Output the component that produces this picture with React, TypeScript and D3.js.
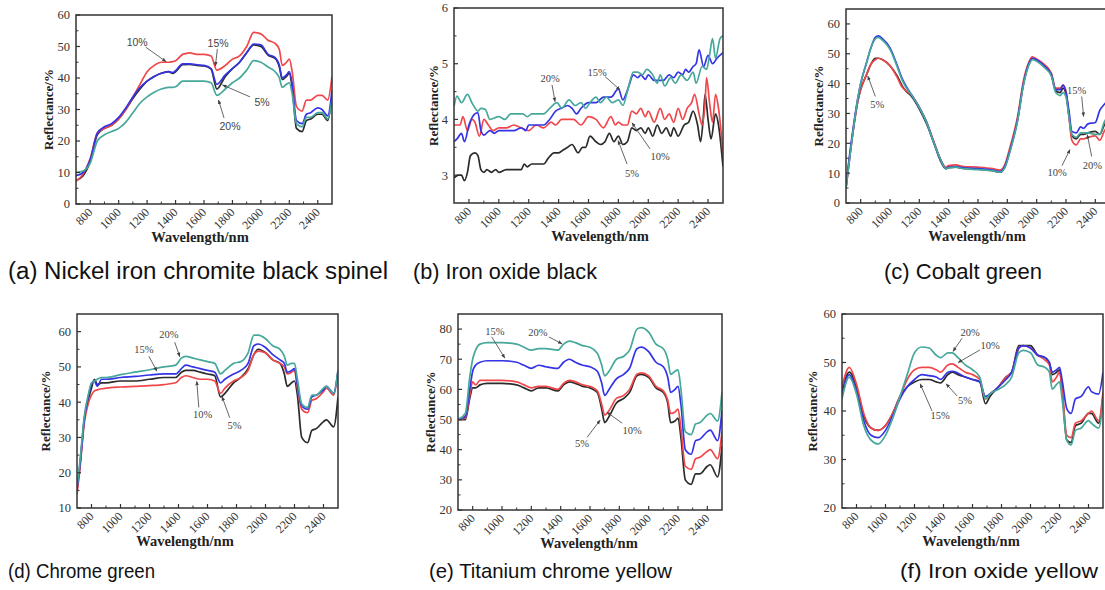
import React from 'react';
import * as d3 from 'd3';

// series order everywhere: 5%, 10%, 15%, 20%
const SERIES = ['5%', '10%', '15%', '20%'];
const COLORS = ['#2b2b2b', '#f0474b', '#3434e6', '#46a89b'];

// (a) Nickel iron chromite black spinel
const A_WL = [700, 750, 800, 850, 900, 950, 1000, 1050, 1100, 1150, 1200, 1250, 1300, 1350, 1380, 1400, 1450, 1500, 1550, 1600, 1650, 1690, 1750, 1800, 1850, 1900, 1950, 2000, 2050, 2100, 2130, 2150, 2180, 2200, 2220, 2250, 2290, 2320, 2350, 2400, 2430, 2470, 2500];
const A_5 = [7.5, 9, 13.5, 22, 24, 25, 27, 30, 33.5, 36.5, 39, 40.5, 41.5, 42, 41.5, 42, 44.2, 44.3, 44, 43.8, 42.8, 36.5, 40.5, 43, 45, 48, 50.5, 50, 47.3, 46.2, 43.5, 39.5, 40.5, 41.5, 37, 24, 23, 26.5, 27, 28.5, 28.5, 26.5, 34];
const A_10 = [7.2, 9.5, 14.5, 22.5, 24, 25, 27, 30, 34, 38, 42, 44, 45, 45, 45.2, 45.5, 47.5, 48, 47.5, 47.5, 47, 42.5, 44, 46, 47, 50, 54.5, 54, 52, 51, 49, 44, 45, 46, 42, 31, 29.5, 33, 33, 34.5, 34.5, 33, 40.5];
const A_15 = [9, 10, 14, 22.5, 24.5, 25.5, 27.5, 30.5, 34, 37, 39, 40.5, 41.5, 42, 41.7, 42.3, 44.5, 44.5, 44.2, 44, 43, 38, 41, 43, 45, 48, 50.8, 50.5, 47.5, 46.5, 44, 40, 41, 42, 38, 26.5, 25.5, 28.5, 29, 30.5, 30, 28, 36];
const A_20 = [10, 10.5, 13, 20, 22, 23, 24, 26, 29, 32, 34, 35.5, 36.5, 37, 37, 37.2, 39, 39, 39, 39, 38.5, 34.5, 36.5, 38.5, 40, 42.5, 45.5, 45, 43.5, 42, 40, 37, 38, 38.5, 35, 25.5, 24.5, 27.5, 27.5, 29, 29, 27, 33];
// label, text wl, text value, arrow from wl/value, arrow to wl/value
const A_NOTES: [string, number, number, number, number, number, number][] = [
  ['10%', 1130, 51.4, 1190, 49.8, 1333, 45.2],
  ['15%', 1699, 51.1, 1694, 49.2, 1680, 43.8],
  ['5%', 2008, 32.4, 1924, 34, 1730, 37.8],
  ['20%', 1783, 24.8, 1741, 27.3, 1702, 33],
];

// (b) Iron oxide black
const B_WL_5 = [700, 730, 750, 770, 790, 810, 840, 860, 880, 900, 920, 950, 980, 1000, 1050, 1100, 1150, 1170, 1190, 1220, 1300, 1330, 1370, 1400, 1430, 1460, 1490, 1530, 1560, 1580, 1610, 1650, 1680, 1710, 1740, 1770, 1800, 1830, 1860, 1890, 1920, 1950, 1980, 2000, 2030, 2060, 2090, 2120, 2150, 2170, 2200, 2240, 2270, 2300, 2330, 2350, 2370, 2380, 2400, 2420, 2450, 2470, 2500];
const B_5 = [2.95, 3.0, 3.0, 2.9, 3.05, 3.35, 3.4, 3.35, 3.1, 3.05, 3.1, 3.05, 3.1, 3.05, 3.1, 3.1, 3.1, 3.2, 3.15, 3.2, 3.2, 3.3, 3.4, 3.4, 3.45, 3.5, 3.55, 3.4, 3.5, 3.5, 3.7, 3.6, 3.55, 3.6, 3.75, 3.6, 3.7, 3.55, 3.6, 3.85, 3.8, 3.85, 3.75, 3.85, 3.7, 3.9, 3.75, 3.85, 3.7, 3.85, 3.7, 3.9, 3.95, 4.15, 3.9, 3.6, 4.1, 4.45, 4.0, 3.65, 4.1, 3.9, 3.15];
const B_WL_10 = [700, 740, 760, 790, 820, 840, 870, 900, 930, 960, 1000, 1050, 1100, 1150, 1200, 1250, 1300, 1350, 1380, 1420, 1500, 1550, 1600, 1650, 1700, 1750, 1780, 1800, 1830, 1860, 1890, 1920, 1950, 1980, 2000, 2040, 2080, 2110, 2140, 2170, 2200, 2230, 2260, 2290, 2310, 2340, 2360, 2380, 2390, 2410, 2430, 2450, 2470, 2500];
const B_10 = [3.9, 3.9, 4.05, 3.8, 4.0, 3.95, 3.7, 4.0, 3.9, 3.8, 3.85, 3.85, 3.9, 3.85, 3.8, 3.9, 3.85, 3.95, 3.9, 4.0, 4.0, 3.9, 4.05, 4.0, 3.85, 4.05, 3.9, 3.95, 3.9, 3.9, 4.15, 4.1, 4.2, 4.05, 4.15, 3.95, 4.2, 4.0, 4.1, 3.95, 4.2, 4.0, 4.2, 4.3, 4.45, 4.1, 3.9, 4.3, 4.75, 4.3, 3.95, 4.45, 4.2, 3.4];
const B_WL_15 = [700, 720, 750, 770, 800, 840, 860, 880, 900, 940, 970, 1000, 1100, 1150, 1180, 1200, 1300, 1340, 1380, 1420, 1460, 1490, 1520, 1550, 1600, 1650, 1700, 1750, 1800, 1830, 1850, 1870, 1900, 1930, 1950, 1980, 2000, 2040, 2080, 2100, 2140, 2170, 2200, 2230, 2250, 2270, 2300, 2320, 2340, 2370, 2400, 2430, 2460, 2500];
const B_15 = [3.6, 3.65, 3.75, 3.6, 3.9, 4.1, 4.12, 3.8, 3.72, 3.8, 3.75, 3.8, 3.8, 3.85, 3.8, 3.9, 3.9, 4.0, 4.15, 4.2, 4.25, 4.2, 4.1, 4.2, 4.3, 4.3, 4.4, 4.4, 4.55, 4.35, 4.45, 4.6, 4.8, 4.75, 4.8, 4.72, 4.8, 4.7, 4.7, 4.7, 4.8, 4.75, 4.85, 4.8, 4.9, 4.85, 4.95, 5.0, 5.25, 4.95, 5.15, 5.0, 5.1, 5.2];
const B_WL_20 = [700, 720, 750, 790, 820, 860, 880, 910, 940, 1000, 1040, 1080, 1120, 1160, 1190, 1220, 1260, 1300, 1340, 1390, 1420, 1470, 1510, 1550, 1580, 1610, 1650, 1680, 1720, 1760, 1800, 1830, 1860, 1900, 1930, 1960, 1990, 2030, 2060, 2080, 2110, 2150, 2180, 2220, 2260, 2300, 2320, 2360, 2390, 2410, 2430, 2450, 2480, 2500];
const B_20 = [4.23, 4.42, 4.3, 4.45, 4.3, 4.15, 4.2, 4.18, 4.0, 4.05, 4.0, 4.1, 4.1, 4.1, 4.05, 4.1, 4.1, 4.1, 4.2, 4.3, 4.2, 4.35, 4.25, 4.3, 4.2, 4.3, 4.4, 4.3, 4.4, 4.3, 4.35, 4.25, 4.5, 4.85, 4.85, 4.8, 4.9, 4.8, 4.65, 4.8, 4.6, 4.75, 4.65, 4.8, 4.7, 4.85, 4.65, 4.95, 4.9, 5.15, 5.45, 5.1, 5.45, 5.5];
const B_NOTES: [string, number, number, number, number, number, number][] = [
  ['20%', 1343, 4.73, 1356, 4.62, 1376, 4.32],
  ['15%', 1657, 4.84, 1711, 4.77, 1811, 4.53],
  ['10%', 2079, 3.33, 2012, 3.47, 1891, 3.94],
  ['5%', 1891, 3.04, 1858, 3.2, 1798, 3.62],
];

// (c) Cobalt green
const C_WL = [700, 740, 780, 800, 840, 870, 900, 920, 950, 1000, 1050, 1080, 1100, 1150, 1200, 1250, 1300, 1350, 1380, 1400, 1450, 1500, 1600, 1700, 1750, 1780, 1820, 1870, 1910, 1950, 1970, 2000, 2050, 2100, 2130, 2160, 2180, 2200, 2220, 2240, 2270, 2300, 2320, 2350, 2400, 2430, 2460, 2500];
const C_5 = [5, 21, 34, 38, 43, 46.5, 48.5, 48.5, 48, 46, 42.5, 39.5, 38, 35.5, 31.5, 26.5, 20, 13.5, 11.5, 11.8, 12, 11.6, 11.3, 10.8, 10.3, 11.8, 18, 28, 40, 47, 48.5, 48, 46, 43, 37.5, 37, 38.5, 36.5, 29.5, 22.5, 21.5, 23, 23, 23.5, 24, 23, 26, 29];
const C_10 = [5, 21, 34, 38, 43, 46.5, 48, 48.5, 48, 46, 42, 39, 38, 36, 32, 27, 20.5, 14, 12, 12.5, 12.8, 12.2, 12, 11.5, 11, 12.5, 19, 29, 41, 47.5, 49, 48.2, 46.5, 43.5, 38.5, 38.5, 39.5, 37.5, 29, 21, 19.5, 21.5, 21.5, 22, 22.5, 21, 24, 27];
const C_15 = [6, 22, 35, 40, 47, 52, 55.5, 56, 55, 52, 46, 42, 40, 36, 32, 27, 20, 14, 11.5, 12, 12.2, 11.8, 11.5, 11, 10.5, 12, 18, 28, 40, 47, 48.5, 48, 46, 43, 38, 38, 39.5, 37, 31, 24, 23.5, 25.5, 25, 26.5, 27, 31, 33, 35];
const C_20 = [5, 21, 35, 40, 47, 52, 55, 55.5, 54.5, 51.5, 45.5, 41.5, 39.5, 36, 32, 27, 20, 14, 11.5, 11.8, 12, 11.5, 11.2, 10.8, 10.3, 11.5, 17.5, 27.5, 39.5, 46.5, 48, 47.5, 45.5, 42.5, 37, 36, 37, 35.5, 29, 23, 22, 23.5, 23.5, 23.5, 23, 23, 27, 30];
const C_NOTES: [string, number, number, number, number, number, number][] = [
  ['5%', 913, 33, 900, 35.7, 849, 42.5],
  ['15%', 2273, 37.7, 2307, 35.7, 2320, 29],
  ['10%', 2140, 10.2, 2173, 12.5, 2227, 17.9],
  ['20%', 2380, 12.5, 2375, 15.6, 2345, 22.9],
];

// (d) Chrome green
const D_WL = [700, 720, 750, 780, 800, 820, 840, 870, 900, 1000, 1100, 1200, 1300, 1380, 1420, 1450, 1500, 1550, 1600, 1650, 1690, 1720, 1780, 1830, 1880, 1920, 1950, 2000, 2050, 2100, 2130, 2150, 2180, 2200, 2220, 2250, 2290, 2320, 2350, 2400, 2420, 2470, 2500];
const D_5 = [15, 22, 35, 41, 44, 46.5, 45, 45.5, 45.5, 46, 46, 46.5, 47, 47, 48.5, 49, 49, 48.5, 48, 47.5, 41.5, 42.5, 45.5, 47, 49.5, 53.5, 55, 54, 52, 51, 48, 44.5, 45.5, 46, 42, 30, 28.5, 32, 32.5, 34.5, 35, 33, 41.5];
const D_10 = [14, 21, 34, 40, 42, 43.2, 43.5, 43.8, 44, 44.3, 44.5, 44.7, 45, 45.5, 47, 47.5, 47, 46.5, 46.5, 46, 42.5, 44, 46, 47, 49, 53.5, 54.5, 54, 52, 51, 50, 48, 48.5, 49, 44, 38, 37, 40.5, 41, 43, 44, 42, 48.5];
const D_15 = [15.5, 22, 35, 42, 45, 46, 44.5, 46.5, 46.5, 47, 47.3, 47.7, 48, 48, 49.5, 50.5, 50, 49.5, 49, 48.5, 45.5, 46.5, 48, 49, 51, 56, 56.5, 55.5, 53.5, 52, 51, 48.5, 49, 49.5, 45, 39, 38, 41.5, 42, 43.5, 44.5, 42.5, 49];
const D_20 = [16, 23, 36, 42.5, 45.5, 46, 46.5, 47, 47, 47.8, 48.5, 49.2, 50, 50.5, 52.5, 53, 52.5, 52, 51.5, 51, 48, 49, 51, 51.5, 54, 59, 59, 58, 56, 55, 53, 50.5, 51, 51, 46.5, 39.5, 38.5, 42, 42, 44, 44.5, 42.5, 49];
const D_NOTES: [string, number, number, number, number, number, number][] = [
  ['20%', 1333, 59.2, 1374, 57, 1409, 52.9],
  ['15%', 1161, 55, 1196, 53, 1251, 48.8],
  ['10%', 1567, 36.5, 1540, 38.5, 1526, 45.9],
  ['5%', 1787, 33.4, 1753, 35.6, 1700, 41.6],
];

// (e) Titanium chrome yellow
const E_WL = [700, 750, 780, 800, 820, 850, 900, 1000, 1100, 1150, 1200, 1250, 1300, 1380, 1420, 1460, 1500, 1550, 1600, 1650, 1680, 1700, 1730, 1780, 1830, 1870, 1920, 1950, 2000, 2050, 2100, 2130, 2150, 2180, 2200, 2220, 2250, 2290, 2320, 2350, 2400, 2420, 2470, 2500];
const E_5 = [50, 50, 57, 60.5, 60.5, 61.5, 62, 62, 61.5, 60.5, 59.5, 60.5, 60.5, 59.5, 61.5, 62.5, 62, 61, 60.5, 59, 53.5, 49, 51, 55.5, 57, 59, 64.5, 65, 64, 60.5, 59, 55.5, 49, 49.5, 50.5, 44, 30, 28.5, 32, 32, 34.5, 35, 31, 41];
const E_10 = [50, 50.5, 58, 62.5, 61.5, 63, 63, 63, 62.5, 61.5, 60.5, 61, 61, 60, 62, 63, 62.5, 61.5, 61, 59.5, 55, 51.5, 53, 57, 58, 60, 65, 65.5, 64.5, 61, 59.5, 56.5, 52, 52.5, 53.5, 47, 34.5, 33.5, 37, 37.5, 39.5, 40, 37, 46];
const E_15 = [50, 51, 60, 66, 68, 69, 69.5, 69.5, 69, 68, 67, 68, 67.5, 67, 69, 70, 69, 68, 67.5, 66, 62, 58, 60, 63.5, 65, 67, 73.5, 74, 72.5, 69, 67.5, 64, 59, 60, 61, 55, 40, 38.5, 43, 43.5, 46, 46.5, 43, 53];
const E_20 = [50, 52, 64, 70, 73, 75, 75.5, 75.5, 75, 74, 73, 73.5, 73.5, 73, 75, 76, 75.5, 74.5, 74, 72, 68, 64.5, 66, 70, 71, 73, 80, 80.5, 79, 75, 73.5, 70, 65, 66, 66.5, 60, 46, 45, 48.5, 49, 51.5, 52, 49.5, 59];
const E_NOTES: [string, number, number, number, number, number, number][] = [
  ['15%', 951, 79.4, 930, 77.4, 1019, 70.4],
  ['20%', 1245, 78.8, 1320, 77.4, 1409, 75.1],
  ['5%', 1545, 42.1, 1580, 44.1, 1669, 49.8],
  ['10%', 1887, 46.4, 1819, 48.8, 1716, 52.4],
];

// (f) Iron oxide yellow
const F_WL = [700, 750, 800, 850, 900, 950, 1000, 1050, 1100, 1150, 1200, 1250, 1300, 1350, 1380, 1430, 1460, 1500, 1550, 1600, 1650, 1690, 1720, 1780, 1830, 1870, 1920, 1950, 2000, 2050, 2100, 2130, 2150, 2180, 2200, 2220, 2250, 2280, 2310, 2350, 2400, 2420, 2470, 2500];
const F_5 = [44, 48, 45, 39, 36.5, 36, 37, 39.5, 43, 45, 46, 46.5, 46.5, 46, 45.8, 47.5, 48, 47.5, 47, 46.5, 46, 41.5, 43, 45, 47, 48, 53.5, 53.5, 53.5, 51.5, 51, 50, 47.5, 48, 48.5, 43.5, 34, 33.5, 37, 37.5, 39.5, 39.5, 37.5, 43];
const F_10 = [45, 49, 45.5, 39.5, 36.5, 36, 37, 39.5, 43, 46.5, 48.5, 49, 49, 48.5, 48, 49.5, 49.7, 49, 48, 47.5, 46.5, 42.5, 43.5, 45, 47, 48, 53, 53.5, 53, 51.5, 50.5, 49.5, 46, 47, 48, 44, 35, 34.5, 37.5, 38, 39.5, 40, 38, 44];
const F_15 = [43.5, 47.5, 44, 38, 35, 34.5, 36, 39, 42.5, 45, 46.5, 47.5, 47.3, 47, 46.5, 48, 48.2, 47.8, 47, 46.5, 46, 43, 43.5, 45, 46.5, 48, 53, 53.5, 53, 51.5, 51, 50, 48, 48.5, 49, 46, 40.5, 39.5, 42.5, 43, 45, 44, 43.5, 48];
const F_20 = [42.5, 47, 43.5, 37, 34, 33.2, 35, 38.5, 43, 47.5, 52, 53.2, 53, 51.5, 51, 52, 52, 51, 49.5, 48.5, 47, 42.5, 43.5, 44.5, 45.5, 47, 52, 52.5, 52, 49.5, 49, 48, 44.5, 45.5, 46, 42, 34, 33, 36, 36.5, 38, 37.5, 36.5, 42];
const F_NOTES: [string, number, number, number, number, number, number][] = [
  ['20%', 1584, 56.3, 1528, 55, 1466, 52.3],
  ['10%', 1721, 53.6, 1652, 52.6, 1501, 50],
  ['5%', 1549, 42.3, 1494, 43.1, 1418, 45.6],
  ['15%', 1376, 39.2, 1321, 40, 1239, 45.6],
];

const X_TICKS = [800, 1000, 1200, 1400, 1600, 1800, 2000, 2200, 2400];

// layout: frame box [left, right, top, bottom] in page pixels
const PANELS = [
  { key: 'a', caption: '(a) Nickel iron chromite black spinel', box: [76, 332, 15, 204], yDomain: [0, 60], yTicks: [0, 10, 20, 30, 40, 50, 60],
    lines: [[A_WL, A_5], [A_WL, A_10], [A_WL, A_15], [A_WL, A_20]], notes: A_NOTES, noteSans: true,
    yTitleX: 48, xTitleX: 200, capX: 8, capY: 279, capW: 380, capSize: 23 },
  { key: 'b', caption: '(b) Iron oxide black', box: [454, 723, 8, 203], yDomain: [2.5, 6], yTicks: [3, 4, 5, 6],
    lines: [[B_WL_5, B_5], [B_WL_10, B_10], [B_WL_15, B_15], [B_WL_20, B_20]], notes: B_NOTES, noteSans: false,
    yTitleX: 433, xTitleX: 600, capX: 413, capY: 279, capW: 184, capSize: 22 },
  { key: 'c', caption: '(c) Cobalt green', box: [846, 1110, 9, 203], yDomain: [0, 65], yTicks: [0, 10, 20, 30, 40, 50, 60],
    lines: [[C_WL, C_5], [C_WL, C_10], [C_WL, C_15], [C_WL, C_20]], notes: C_NOTES, noteSans: false,
    yTitleX: 818, xTitleX: 977, capX: 884, capY: 279, capW: 158, capSize: 22 },
  { key: 'd', caption: '(d) Chrome green', box: [77, 338, 314, 508], yDomain: [10, 65], yTicks: [10, 20, 30, 40, 50, 60],
    lines: [[D_WL, D_5], [D_WL, D_10], [D_WL, D_15], [D_WL, D_20]], notes: D_NOTES, noteSans: false,
    yTitleX: 45, xTitleX: 185, capX: 8, capY: 578, capW: 147, capSize: 21 },
  { key: 'e', caption: '(e) Titanium chrome yellow', box: [458, 722, 314, 510], yDomain: [20, 85], yTicks: [20, 30, 40, 50, 60, 70, 80],
    lines: [[E_WL, E_5], [E_WL, E_10], [E_WL, E_15], [E_WL, E_20]], notes: E_NOTES, noteSans: false,
    yTitleX: 430, xTitleX: 589, capX: 429, capY: 578, capW: 243, capSize: 21 },
  { key: 'f', caption: '(f) Iron oxide yellow', box: [842, 1103, 314, 508], yDomain: [20, 60], yTicks: [20, 30, 40, 50, 60],
    lines: [[F_WL, F_5], [F_WL, F_10], [F_WL, F_15], [F_WL, F_20]], notes: F_NOTES, noteSans: false,
    yTitleX: 812, xTitleX: 971, capX: 900, capY: 578, capW: 198, capSize: 21 },
];

const SERIF = '"Liberation Serif", "Times New Roman", serif';
const SANS = '"Liberation Sans", Arial, sans-serif';
const FRAME = '#333';

function Panel({ p }: { p: any }) {
  const [x0, x1, y0, y1] = p.box;
  const x = d3.scaleLinear().domain([700, 2500]).range([x0, x1]);
  const y = d3.scaleLinear().domain(p.yDomain).range([y1, y0]);
  const line = d3.line<[number, number]>()
    .x(d => x(d[0]))
    .y(d => y(d[1]))
    .curve(d3.curveMonotoneX);

  const step = p.yTicks[1] - p.yTicks[0];
  const yMinor = p.yTicks.map((t: number) => t + step / 2).filter((t: number) => t < p.yDomain[1]);
  const xMinor = X_TICKS.map(t => t + 100).filter(t => t < 2500);
  const clipId = `clip-${p.key}`;

  return (
    <g>
      <defs>
        <clipPath id={clipId}>
          <rect x={x0} y={y0} width={x1 - x0} height={y1 - y0} />
        </clipPath>
      </defs>

      {/* spectra */}
      <g clipPath={`url(#${clipId})`}>
        {p.lines.map(([wl, vals]: [number[], number[]], i: number) => (
          <path key={SERIES[i]}
            d={line(d3.zip(wl, vals) as [number, number][]) || ''}
            fill="none" stroke={COLORS[i]} strokeWidth={1.7} strokeLinejoin="round" />
        ))}
      </g>

      {/* frame */}
      <rect x={x0} y={y0} width={x1 - x0} height={y1 - y0} fill="none" stroke={FRAME} strokeWidth={1.5} />

      {/* y ticks */}
      {p.yTicks.map((t: number) => (
        <g key={'y' + t}>
          <line x1={x0} x2={x0 + 4} y1={y(t)} y2={y(t)} stroke={FRAME} strokeWidth={1.2} />
          <text x={x0 - 6} y={y(t)} dy="0.35em" textAnchor="end" fontFamily={SERIF} fontSize={12.5} fill="#333">{t}</text>
        </g>
      ))}
      {yMinor.map((t: number) => (
        <line key={'ym' + t} x1={x0} x2={x0 + 2.5} y1={y(t)} y2={y(t)} stroke={FRAME} strokeWidth={1} />
      ))}

      {/* x ticks */}
      {X_TICKS.map(t => (
        <g key={'x' + t}>
          <line x1={x(t)} x2={x(t)} y1={y1} y2={y1 - 4} stroke={FRAME} strokeWidth={1.2} />
          <text transform={`translate(${x(t) + 3},${y1 + 9}) rotate(-45)`} textAnchor="end"
            fontFamily={SERIF} fontSize={12} fill="#333">{t}</text>
        </g>
      ))}
      {xMinor.map(t => (
        <line key={'xm' + t} x1={x(t)} x2={x(t)} y1={y1} y2={y1 - 2.5} stroke={FRAME} strokeWidth={1} />
      ))}

      {/* axis titles */}
      <text transform={`translate(${p.yTitleX},${(y0 + y1) / 2}) rotate(-90)`} dy="0.35em" textAnchor="middle"
        fontFamily={SERIF} fontWeight="bold" fontSize={13} fill="#222">Reflectance/%</text>
      <text x={p.xTitleX} y={y1 + 38} textAnchor="middle"
        fontFamily={SERIF} fontWeight="bold" fontSize={14.5} fill="#222">Wavelength/nm</text>

      {/* concentration labels with arrows */}
      {p.notes.map(([label, tx, ty, ax, ay, bx, by]: [string, number, number, number, number, number, number]) => (
        <g key={'n' + label}>
          <line x1={x(ax)} y1={y(ay)} x2={x(bx)} y2={y(by)} stroke="#555" strokeWidth={0.9} markerEnd="url(#arrowHead)" />
          <text x={x(tx)} y={y(ty)} dy="0.35em" textAnchor="middle"
            fontFamily={p.noteSans ? SANS : SERIF} fontSize={10.5} fill="#444">{label}</text>
        </g>
      ))}

      {/* caption */}
      <text x={p.capX} y={p.capY} fontFamily={SANS} fontSize={p.capSize} fill="#111"
        textLength={p.capW} lengthAdjust="spacingAndGlyphs">{p.caption}</text>
    </g>
  );
}

export default function App() {
  return (
    <svg width={1105} height={590} style={{ position: 'absolute', left: 0, top: 0, background: '#fff' }}>
      <defs>
        <marker id="arrowHead" viewBox="0 0 10 10" refX={9} refY={5} markerWidth={5} markerHeight={5} orient="auto">
          <path d="M0,1 L10,5 L0,9 z" fill="#444" />
        </marker>
      </defs>
      <rect width={1105} height={590} fill="#fff" />
      {PANELS.map(p => <Panel key={p.key} p={p} />)}
    </svg>
  );
}
